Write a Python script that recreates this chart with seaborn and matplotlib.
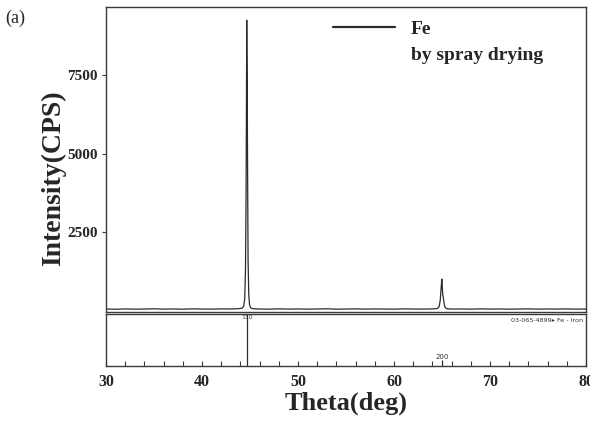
import numpy as np
import pandas as pd
import seaborn as sns
import matplotlib.pyplot as plt
from matplotlib.lines import Line2D
from matplotlib.ticker import MultipleLocator

# Measured XRD pattern of Fe powder (2-theta in degrees, intensity in CPS)
two_theta = [30.0, 31.0, 32.0, 33.0, 34.0, 35.0, 36.0, 37.0, 38.0, 39.0,
             40.0, 41.0, 42.0, 43.0, 43.8, 44.2, 44.35, 44.45, 44.53, 44.59,
             44.63, 44.66, 44.68, 44.71, 44.75, 44.80, 44.87, 44.95, 45.05, 45.2,
             45.6, 46.0, 47.0, 48.0, 49.0, 50.0, 51.0, 52.0, 53.0, 54.0,
             55.0, 56.0, 57.0, 58.0, 59.0, 60.0, 61.0, 62.0, 63.0, 64.0,
             64.5, 64.7, 64.82, 64.92, 64.98, 65.02, 65.07, 65.13, 65.2, 65.3,
             65.45, 65.7, 66.0, 67.0, 68.0, 69.0, 70.0, 71.0, 72.0, 73.0,
             74.0, 75.0, 76.0, 77.0, 78.0, 79.0, 80.0]
intensity = [45, 38, 48, 40, 44, 52, 41, 47, 39, 50,
             44, 42, 49, 46, 55, 75, 140, 380, 1300, 3600,
             6500, 9250, 8200, 7300, 4400, 1600, 520, 190, 90, 60,
             48, 45, 40, 50, 43, 47, 41, 46, 52, 40,
             45, 49, 42, 47, 44, 41, 50, 45, 43, 48,
             60, 120, 330, 760, 1000, 820, 520, 430, 260, 110,
             60, 48, 44, 46, 41, 50, 43, 47, 40, 45,
             49, 42, 46, 44, 48, 41, 45]

# Reference pattern 03-065-4899 Fe - Iron (relative intensity %)
ref_pos = [44.67, 65.02]
ref_int = [100, 12]
ref_hkl = ["110", "200"]

# Tick values
y_ticks = [2500, 5000, 7500]
x_ticks = [30, 40, 50, 60, 70, 80]

df = pd.DataFrame({"two_theta": two_theta, "intensity": intensity})

sns.set_theme(style="white")
plt.rcParams["font.family"] = ["Liberation Serif", "DejaVu Serif"]

W, H = 590, 425
fig = plt.figure(figsize=(W / 100, H / 100), dpi=100)
fig.patch.set_facecolor("white")

ax = fig.add_axes([106 / W, (H - 312) / H, 480 / W, 305 / H])
axr = fig.add_axes([106 / W, (H - 366) / H, 480 / W, 52 / H], sharex=ax)

edge = "#3a3a3a"
for a in (ax, axr):
    a.set_facecolor("white")
    for s in a.spines.values():
        s.set_color(edge)
        s.set_linewidth(1.0)

# Measured pattern
sns.lineplot(data=df, x="two_theta", y="intensity", ax=ax,
             color="#2a2a2a", linewidth=0.9, estimator=None, sort=False)
ax.set_xlim(30, 80)
ax.set_ylim(-50, 9670)
ax.set_yticks(y_ticks)
ax.set_yticklabels([str(v) for v in y_ticks], fontsize=11, fontweight="bold")
ax.tick_params(axis="y", direction="out", length=3, width=0.8, color=edge,
               pad=3, left=True)
ax.tick_params(axis="x", bottom=False, labelbottom=False)
ax.set_xlabel("")
ax.set_ylabel("Intensity(CPS)", fontsize=20, fontweight="bold")
ax.yaxis.set_label_coords(-0.083, 1 - (178 - 7) / 305)

# Legend: line sample for Fe with a second caption line
handles = [Line2D([], [], color="#2a2a2a", linewidth=1.6),
           Line2D([], [], color="none")]
leg = ax.legend(handles, ["Fe", "by spray drying"], loc="upper left",
                bbox_to_anchor=((333 - 106) / 480, 1 - (20 - 7) / 305),
                frameon=False, borderaxespad=0, borderpad=0,
                handlelength=3.2, handletextpad=0.8, labelspacing=0.45,
                prop={"family": "Liberation Serif", "weight": "bold", "size": 14})

# Reference stick pattern
axr.vlines(ref_pos, 0, ref_int, color="#2a2a2a", linewidth=0.9)
axr.set_ylim(0, 100)
axr.set_yticks([])
axr.text(ref_pos[0], 99, ref_hkl[0], fontsize=4.5, ha="center", va="top",
         color="#444444", family="DejaVu Sans")
axr.text(ref_pos[1], ref_int[1] + 5, ref_hkl[1], fontsize=5, ha="center",
         va="center", color="#333333", family="DejaVu Sans")
axr.text(0.995, 0.93, "03-065-4899\u25b8 Fe - Iron", transform=axr.transAxes,
         fontsize=4.6, ha="right", va="top", color="#333333",
         family="DejaVu Sans")

axr.xaxis.set_major_locator(MultipleLocator(10))
axr.xaxis.set_minor_locator(MultipleLocator(2))
axr.set_xticks(x_ticks)
axr.set_xticklabels([str(v) for v in x_ticks], fontsize=11.5, fontweight="bold")
axr.tick_params(axis="x", which="both", direction="in", length=3.5, width=0.8,
                color=edge, bottom=True, pad=6)
axr.set_xlabel("Theta(deg)", fontsize=19, fontweight="bold")
axr.xaxis.set_label_coords(0.5, -0.49)
axr.xaxis.label.set_va("top")

fig.text(5 / W, 1 - 18 / H, "(a)", fontsize=13, ha="left", va="center",
         family="Liberation Serif")

fig.savefig("out.png", dpi=100, facecolor="white")
